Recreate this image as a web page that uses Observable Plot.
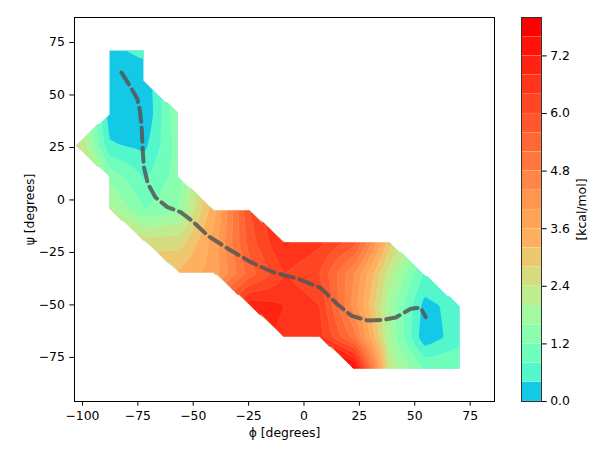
<!DOCTYPE html>
<html>
<head>
<meta charset="utf-8">
<script src="https://cdn.jsdelivr.net/npm/d3@7"></script>
<script src="https://cdn.jsdelivr.net/npm/@observablehq/plot@0.6"></script>
<style>
  body { margin: 0; background: white; }
  #fig { position: relative; width: 614px; height: 461px; }
  #fig svg { position: absolute; top: 0; }
</style>
</head>
<body>
<div id="fig"></div>
<script>
// grid of the free energy surface
const phi = [-103.6, -87.8, -72.0, -56.2, -40.4, -24.6, -8.8, 7.0, 22.8, 38.6, 54.4, 70.2, 86.0];
const psi = [-96.0, -80.8, -65.5, -50.3, -35.1, -19.8, -4.6, 10.7, 25.9, 41.2, 56.4, 71.6, 86.9];

// kcal/mol, one row per psi (bottom to top), null = not sampled
const _ = null;
const energy = [
  [_, _, _, _, _, _, _, _, _, _, _, _, _],
  [_, _, _, _, _, _, _, _, 7.9, 2.3, 1.2, 1.2, _],
  [_, _, _, _, _, _, 6.7, 6.6, 5.0, 1.9, 0.1, 0.65, _],
  [_, _, _, _, _, 7.1, 6.8, 6.4, 4.2, 1.8, 0.25, 0.6, _],
  [_, _, _, 3.3, 3.8, 5.4, 6.4, 6.0, 4.4, 2.2, 0.75, _, _],
  [_, _, 2.6, 2.6, 3.8, 5.8, 6.9, 6.5, 5.8, 3.0, _, _, _],
  [_, 2.1, 1.2, 1.6, 3.5, 6.0, _, _, _, _, _, _, _],
  [_, 1.5, 0.75, 1.4, _, _, _, _, _, _, _, _, _],
  [2.8, 0.45, 0.3, 1.4, _, _, _, _, _, _, _, _, _],
  [_, 0.2, 0.0, 1.6, _, _, _, _, _, _, _, _, _],
  [_, 0.1, 0.05, _, _, _, _, _, _, _, _, _, _],
  [_, 0.28, 0.55, _, _, _, _, _, _, _, _, _, _],
  [_, _, _, _, _, _, _, _, _, _, _, _, _]
];

// minimum energy path
const pathPhi = [-82.4, -78.3, -75.3, -74.1, -73.3, -72.8, -72.3, -70.5, -67.0, -61.7, -55.7, -50.8, -43.1, -34.3, -24.1, -14.2, -2.9, 7.5, 15.2, 21.5, 28.7, 36.0, 41.4, 48.2, 52.7, 54.9];
const pathPsi = [60.7, 53.8, 48.3, 42.7, 34.8, 23.6, 15.7, 7.8, 1.2, -3.4, -5.8, -9.7, -17.3, -23.2, -29.6, -34.3, -37.5, -41.9, -49.8, -55.2, -57.4, -57.1, -56.0, -51.8, -51.3, -55.8];

const levels = [0, 0.4, 0.8, 1.2, 1.6, 2.0, 2.4, 2.8, 3.2, 3.6, 4.0, 4.4, 4.8, 5.2, 5.6, 6.0, 6.4, 6.8, 7.2, 7.6, 8.0];
const cbarTicks = [0, 1.2, 2.4, 3.6, 4.8, 6.0, 7.2];

// position of each band in matplotlib's "rainbow"
const bandPos = [0.29, 0.415, 0.47, 0.52, 0.57, 0.62, 0.67, 0.715, 0.757, 0.78, 0.802, 0.824, 0.846, 0.868, 0.89, 0.912, 0.934, 0.956, 0.978, 1.0];
const rainbow = (t) => {
  const c = (v) => Math.round(255 * Math.max(0, Math.min(1, v)));
  return d3.rgb(c(Math.abs(2 * t - 0.5)), c(Math.sin(Math.PI * t)), c(Math.cos(Math.PI * t / 2))).formatHex();
};
const colors = bandPos.map(rainbow);

const color = {type: "threshold", domain: levels.slice(1, -1), range: colors};

// piecewise surface like matplotlib contourf with corner_mask
function surface(x, y) {
  const i = Math.max(0, Math.min(phi.length - 2, d3.bisectRight(phi, x) - 1));
  const j = Math.max(0, Math.min(psi.length - 2, d3.bisectRight(psi, y) - 1));
  const u = (x - phi[i]) / (phi[i + 1] - phi[i]);
  const v = (y - psi[j]) / (psi[j + 1] - psi[j]);
  const a = energy[j][i], b = energy[j][i + 1], c = energy[j + 1][i], d = energy[j + 1][i + 1];
  const n = [a, b, c, d].filter((e) => e != null).length;
  if (n === 4) return a * (1 - u) * (1 - v) + b * u * (1 - v) + c * (1 - u) * v + d * u * v;
  if (n < 3) return -1e4;
  let s, val;
  if (a == null) { s = u + v - 1; val = d + (1 - u) * (c - d) + (1 - v) * (b - d); }
  else if (b == null) { s = v - u; val = a + v * (c - a) + u * (d - c); }
  else if (c == null) { s = u - v; val = a + u * (b - a) + v * (d - b); }
  else { s = 1 - u - v; val = a + u * (b - a) + v * (c - a); }
  return s >= 0 ? val : s * 1000;
}

const font = {fontFamily: "DejaVu Sans", fontSize: "12.4px", background: "white", color: "black", overflow: "visible"};

const main = Plot.plot({
  width: 505,
  height: 461,
  marginLeft: 74,
  marginRight: 11,
  marginTop: 17,
  marginBottom: 60,
  style: font,
  x: {domain: [phi[0], phi[phi.length - 1]], ticks: [-100, -75, -50, -25, 0, 25, 50, 75], tickSize: 4.7, tickPadding: 5, label: "ϕ [degrees]", labelAnchor: "center", labelOffset: 35, labelArrow: "none"},
  y: {domain: [psi[0], psi[psi.length - 1]], ticks: [-75, -50, -25, 0, 25, 50, 75], tickSize: 4.7, tickPadding: 5, label: "ψ [degrees]", labelAnchor: "center", labelOffset: 49, labelArrow: "none"},
  color,
  marks: [
    Plot.contour(undefined, {
      fill: surface,
      x1: phi[0], x2: phi[phi.length - 1], y1: psi[0], y2: psi[psi.length - 1],
      thresholds: levels.slice(0, -1),
      stroke: "white", strokeOpacity: 0.2, strokeWidth: 0.5
    }),
    Plot.line(pathPhi.map((p, k) => [p, pathPsi[k]]), {stroke: "#555", strokeOpacity: 0.85, strokeWidth: 4, strokeDasharray: "14,6"}),
    Plot.frame({stroke: "black"})
  ]
});

const bands = levels.slice(0, -1).map((lo, k) => ({lo, hi: levels[k + 1]}));
const cbar = Plot.plot({
  width: 109,
  height: 461,
  marginLeft: 16,
  marginRight: 73,
  marginTop: 17,
  marginBottom: 60,
  style: font,
  x: {axis: null},
  y: {domain: [0, 8], axis: "right", ticks: cbarTicks, tickFormat: ".1f", tickSize: 4.7, tickPadding: 4, label: "[kcal/mol]", labelAnchor: "center", labelOffset: 44, labelArrow: "none"},
  color,
  marks: [
    Plot.rect(bands, {y1: "lo", y2: "hi", fill: "lo", stroke: "white", strokeOpacity: 0.2, strokeWidth: 0.5}),
    Plot.frame({stroke: "#333"})
  ]
});

const fig = document.getElementById("fig");
main.style.left = "0px";
cbar.style.left = "505px";
fig.append(main, cbar);
</script>
</body>
</html>
